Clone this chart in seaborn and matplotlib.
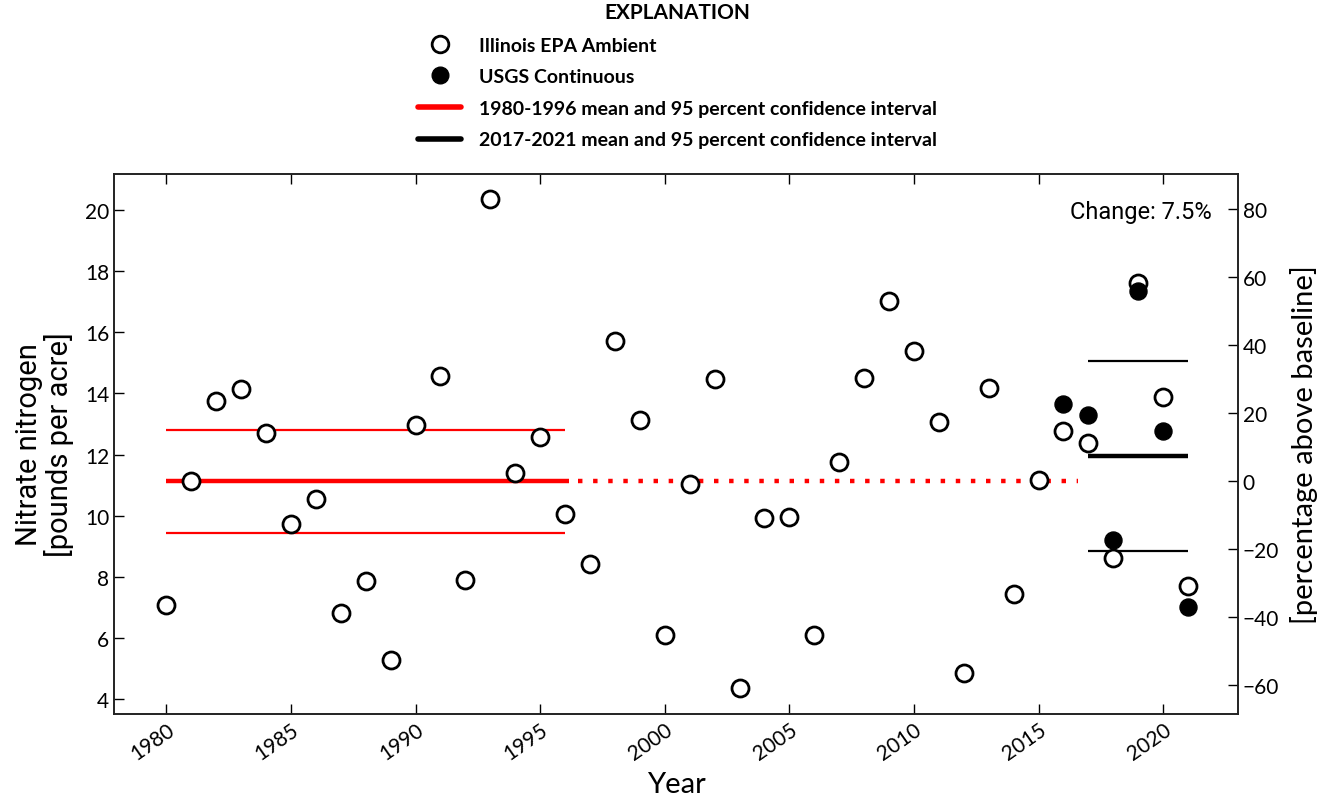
import numpy as np
import pandas as pd
import seaborn as sns
import matplotlib.pyplot as plt
from matplotlib.lines import Line2D

# Illinois EPA ambient annual loads (lb/acre)
epa_years = list(range(1980, 2022))
epa_values = [7.08, 11.13, 13.76, 14.13, 12.70, 9.74, 10.53, 6.82, 7.86, 5.27,
              12.97, 14.56, 7.91, 20.37, 11.39, 12.58, 10.04, 8.41, 15.73, 13.14,
              6.11, 11.05, 14.48, 4.36, 9.92, 9.96, 6.11, 11.76, 14.50, 17.03,
              15.39, 13.05, 4.86, 14.19, 7.45, 11.18, 12.76, 12.38, 8.62, 17.63,
              13.87, 7.71]

# USGS continuous monitor
usgs_years = [2016, 2017, 2018, 2019, 2020, 2021]
usgs_values = [13.64, 13.29, 9.20, 17.34, 12.78, 7.01]

# baseline period stats
base_start, base_end = 1980, 1996
base_mean = 11.13
base_ci = [9.43, 12.82]

# recent period stats
recent_start, recent_end = 2017, 2021
recent_mean = 11.94
recent_ci = [8.86, 15.07]

change_pct = 7.5
pct_ticks = [-60, -40, -20, 0, 20, 40, 60, 80]

df_epa = pd.DataFrame({"year": epa_years, "value": epa_values})
df_usgs = pd.DataFrame({"year": usgs_years, "value": usgs_values})

sns.set_style("ticks")
narrow = ["Lato", "DejaVu Sans"]
wide = ["Roboto", "DejaVu Sans"]
plt.rcParams["font.family"] = narrow
plt.rcParams["text.color"] = "black"
plt.rcParams["axes.labelcolor"] = "black"
plt.rcParams["xtick.color"] = "black"
plt.rcParams["ytick.color"] = "black"
plt.rcParams["xtick.direction"] = "in"
plt.rcParams["ytick.direction"] = "in"

fig = plt.figure(figsize=(13.23, 8.03), dpi=100)
ax = fig.add_axes([0.0862, 0.1096, 0.8495, 0.6724])

# baseline lines
ax.hlines(base_ci, base_start, base_end, color="red", lw=1.6, zorder=2)
ax.hlines(base_mean, base_start, base_end + 0.15, color="red", lw=3.2, zorder=2)
ax.plot([base_end + 0.5, recent_start - 0.4], [base_mean, base_mean], color="red",
        lw=3.2, ls=(0, (1, 2.4)), zorder=2)

# recent lines
ax.hlines(recent_ci, recent_start, recent_end, color="black", lw=1.6, zorder=2)
ax.hlines(recent_mean, recent_start, recent_end, color="black", lw=3.2, zorder=2)

sns.scatterplot(data=df_epa, x="year", y="value", ax=ax, s=150, marker="o",
                facecolor="white", edgecolor="black", linewidth=2, zorder=3)
sns.scatterplot(data=df_usgs, x="year", y="value", ax=ax, s=150, marker="o",
                color="black", edgecolor="black", linewidth=1, zorder=4)

ax.set_xlim(1977.9, 2023.0)
ax.set_ylim(3.51, 21.18)
ax.set_xticks(range(1980, 2021, 5))
ax.set_yticks(range(4, 21, 2))
ax.tick_params(axis="both", length=7, width=1, labelsize=15, top=True)
ax.tick_params(axis="y", right=False)
plt.setp(ax.get_xticklabels(), rotation=35, ha="right", rotation_mode="anchor")
for sp in ax.spines.values():
    sp.set_linewidth(1.2)
    sp.set_color("#222222")

ax.set_xlabel("Year", fontsize=21, labelpad=6)
ax.set_ylabel("Nitrate nitrogen\n[pounds per acre]", fontsize=21,
              family=wide, linespacing=1.05, labelpad=8)

ax2 = ax.twinx()
lo, hi = ax.get_ylim()
ax2.set_ylim((lo / base_mean - 1) * 100, (hi / base_mean - 1) * 100)
ax2.set_yticks(pct_ticks)
ax2.tick_params(axis="y", length=7, width=1, labelsize=15, direction="in")
ax2.set_ylabel("[percentage above baseline]", fontsize=21, labelpad=8)
for sp in ax2.spines.values():
    sp.set_linewidth(1.2)
    sp.set_color("#222222")

ax.text(0.977, 0.93, f"Change: {change_pct}%", transform=ax.transAxes,
        ha="right", va="center", fontsize=17, family=wide)

handles = [
    Line2D([], [], ls="none", marker="o", markersize=12, markerfacecolor="white",
           markeredgecolor="black", markeredgewidth=2),
    Line2D([], [], ls="none", marker="o", markersize=12, markerfacecolor="black",
           markeredgecolor="black"),
    Line2D([], [], color="red", lw=4),
    Line2D([], [], color="black", lw=4),
]
labels = ["Illinois EPA Ambient", "USGS Continuous",
          "1980-1996 mean and 95 percent confidence interval",
          "2017-2021 mean and 95 percent confidence interval"]
leg = fig.legend(handles, labels, loc="upper center", bbox_to_anchor=(0.512, 1.018),
                 frameon=False, title="EXPLANATION", handlelength=2.2,
                 handletextpad=0.9, labelspacing=0.75,
                 prop={"weight": "bold", "size": 14})
leg.get_title().set_fontweight("bold")
leg.get_title().set_fontsize(15)

fig.savefig("out.png", dpi=100)
